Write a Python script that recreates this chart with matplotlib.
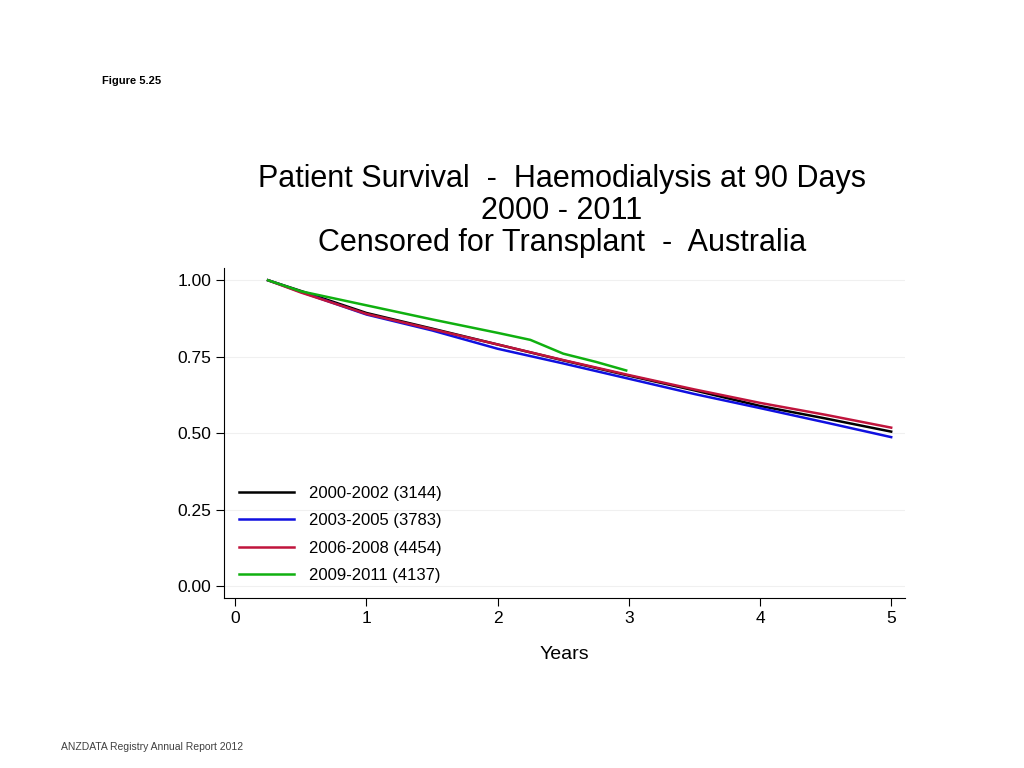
import matplotlib
matplotlib.use("Agg")
from matplotlib import pyplot as plt

plt.rcParams['font.family'] = ['Liberation Sans', 'DejaVu Sans']

years = [0.25, 0.5, 1.0, 1.5, 2.0, 2.5, 3.0, 3.5, 4.0, 4.5, 5.0]
s_0002 = [1.00, 0.965, 0.893, 0.842, 0.790, 0.738, 0.688, 0.640, 0.589, 0.548, 0.505]
s_0305 = [1.00, 0.962, 0.888, 0.836, 0.776, 0.728, 0.678, 0.628, 0.582, 0.535, 0.487]
s_0608 = [1.00, 0.960, 0.890, 0.840, 0.790, 0.739, 0.690, 0.643, 0.599, 0.560, 0.518]
years_g = [0.25, 0.5, 1.0, 1.5, 2.0, 2.25, 2.5, 2.75, 2.98]
s_0911 = [1.00, 0.964, 0.918, 0.872, 0.828, 0.805, 0.760, 0.733, 0.705]

labels = ["2000-2002 (3144)", "2003-2005 (3783)", "2006-2008 (4454)", "2009-2011 (4137)"]
colors = ["#000000", "#1010e0", "#c0143c", "#10b010"]

f = plt.figure(figsize=(10.24, 7.68), dpi=100)
ax = f.add_axes([0.219, 0.221, 0.665, 0.43])
ax.plot(years, s_0002, color=colors[0], lw=1.8, label=labels[0])
ax.plot(years, s_0305, color=colors[1], lw=1.8, label=labels[1])
ax.plot(years, s_0608, color=colors[2], lw=1.8, label=labels[2])
ax.plot(years_g, s_0911, color=colors[3], lw=1.8, label=labels[3])

ax.set_xlim(-0.084, 5.107)
ax.set_ylim(-0.04, 1.04)
ax.set_xticks([0, 1, 2, 3, 4, 5])
ax.set_yticks([0, 0.25, 0.5, 0.75, 1.0])
ax.set_yticklabels(["0.00", "0.25", "0.50", "0.75", "1.00"])
for y in [0, 0.25, 0.5, 0.75, 1.0]:
    ax.axhline(y, color="#f0f0f0", lw=0.8, zorder=0)
for s in ["top", "right"]:
    ax.spines[s].set_visible(False)
ax.tick_params(labelsize=12.5, length=6)
ax.set_xlabel("Years", fontsize=14, labelpad=14)
ax.legend(loc="lower left", bbox_to_anchor=(0.0, 0.0), frameon=False, fontsize=12,
          handlelength=3.3, handletextpad=0.9, labelspacing=0.75)

f.text(0.5488, 0.664, "Patient Survival  -  Haemodialysis at 90 Days\n2000 - 2011\nCensored for Transplant  -  Australia",
       ha="center", va="bottom", fontsize=22, linespacing=1.08)
f.text(0.1, 0.89, "Figure 5.25", fontsize=8, fontweight="bold")
f.text(0.06, 0.023, "ANZDATA Registry Annual Report 2012", fontsize=7.5, color="#404040")

f.savefig("out.png", dpi=100)
